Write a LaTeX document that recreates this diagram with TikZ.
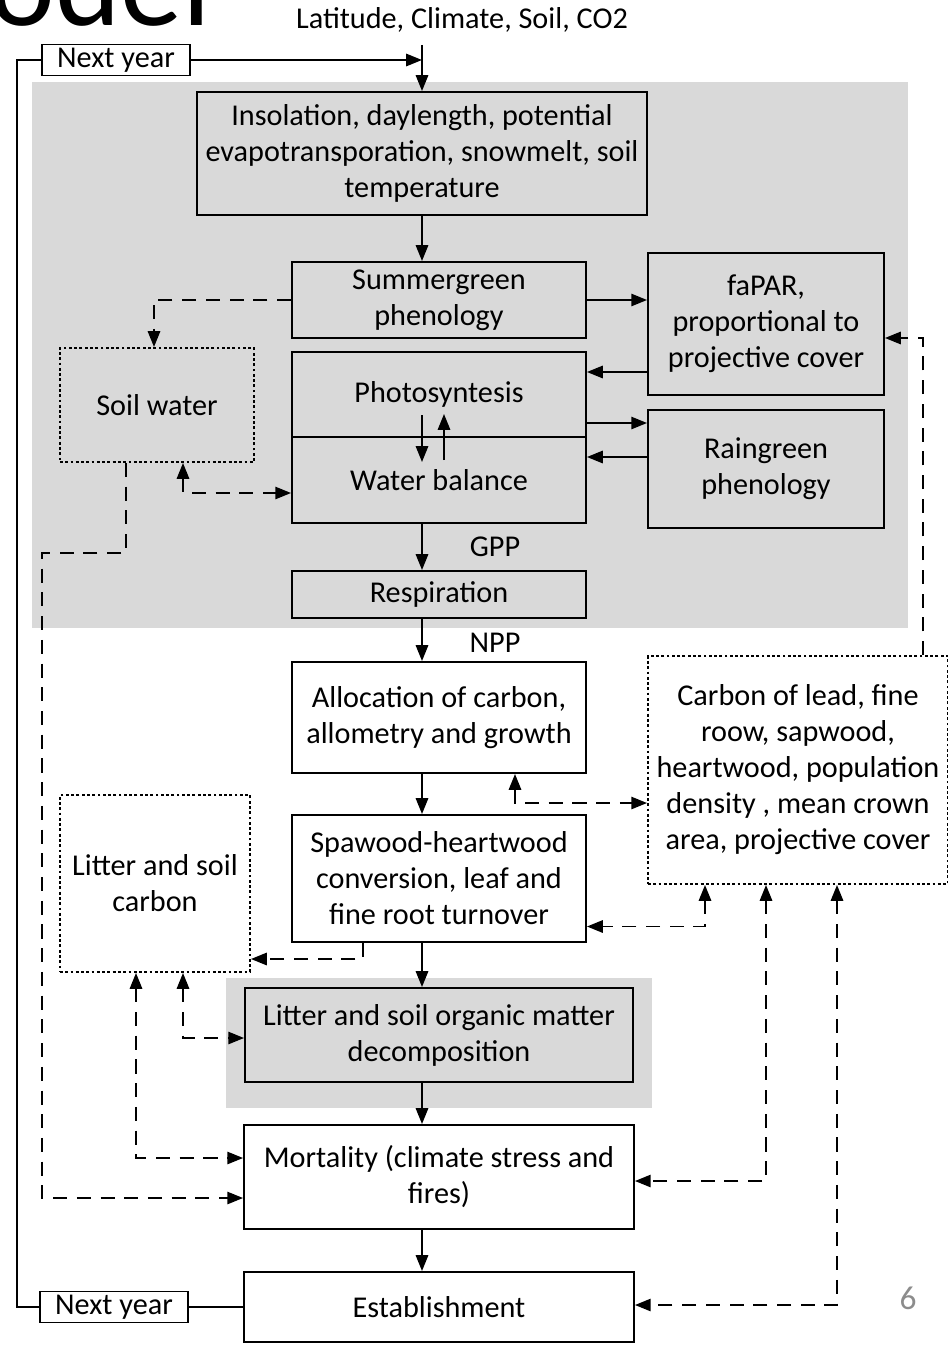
\documentclass[tikz,border=0pt]{standalone}
\usepackage{fontspec}
\setmainfont{Carlito}
\usepackage{tikz}
\usetikzlibrary{arrows.meta, positioning, calc}
\definecolor{panelgray}{RGB}{217,217,217}
\definecolor{pagegray}{RGB}{140,140,140}

\tikzset{
  txt/.style={font=\fontsize{17.2}{20.5}\selectfont},
  proc/.style={txt, draw, line width=1.1pt, fill=panelgray, align=center, inner sep=0pt},
  procw/.style={proc, fill=white},
  pool/.style={proc, dash pattern=on 1.6pt off 1.4pt},
  poolw/.style={pool, fill=white},
  flow/.style={line width=1.1pt, -{Triangle[length=9pt,width=7pt]}},
  link/.style={flow, dash pattern=on 8pt off 5.5pt},
  twoway/.style={link, {Triangle[length=9pt,width=7pt]}-{Triangle[length=9pt,width=7pt]}},
  lbl/.style={txt, inner sep=0pt},
}

\begin{document}
\begin{tikzpicture}[x=0.02cm, y=-0.02cm]
  \useasboundingbox (0,0) rectangle (947,1345);
  % shaded panels
  \fill[panelgray] (32,82) rectangle (908,628);
  \fill[panelgray] (226,978) rectangle (652,1108);
  \coordinate (spine) at (422,0);

  \node[lbl, anchor=base east, font=\fontsize{71}{71}\selectfont] (title) at (212,26) {odel};
  \node[lbl] (lat) at (462,20) {Latitude, Climate, Soil, CO2};
  \node[procw, minimum width=2.96cm, minimum height=0.62cm] (nyt) at (116,60) {Next year};
  \node[procw, minimum width=2.96cm, minimum height=0.62cm] (nyb) at (114,1307) {Next year};

  \node[proc, minimum width=9cm, minimum height=2.46cm] (ins) at (422,153.5)
    {Insolation, daylength, potential\\evapotransporation, snowmelt, soil\\temperature};
  \node[proc, minimum width=5.88cm, minimum height=1.52cm] (sum) at (439,300) {Summergreen\\phenology};
  \node[proc, minimum width=5.88cm, minimum height=1.7cm] (photo) at (439,394.5) {Photosyntesis};
  \node[proc, minimum width=5.88cm, minimum height=1.72cm] (wat) at (439,480) {Water balance};
  \node[proc, minimum width=4.72cm, minimum height=2.84cm] (fapar) at (766,324)
    {faPAR,\\proportional to\\projective cover};
  \node[proc, minimum width=4.72cm, minimum height=2.36cm] (rain) at (766,469) {Raingreen\\phenology};
  \node[pool, minimum width=3.88cm, minimum height=2.28cm] (soil) at (157,405) {Soil water};
  \node[proc, minimum width=5.88cm, minimum height=0.94cm] (resp) at (439,594.5) {Respiration};
  \node[procw, minimum width=5.88cm, minimum height=2.22cm] (alloc) at (439,717.5)
    {Allocation of carbon,\\allometry and growth};
  \node[poolw, minimum width=6cm, minimum height=4.56cm] (carbon) at (798,770)
    {Carbon of lead, fine\\roow, sapwood,\\heartwood, population\\density , mean crown\\area, projective cover};
  \node[procw, minimum width=5.88cm, minimum height=2.54cm] (spw) at (439,878.5)
    {Spawood-heartwood\\conversion, leaf and\\fine root turnover};
  \node[poolw, minimum width=3.8cm, minimum height=3.54cm] (litc) at (155,883.5) {Litter and soil\\carbon};
  \node[proc, minimum width=7.76cm, minimum height=1.88cm] (dec) at (439,1035)
    {Litter and soil organic matter\\decomposition};
  \node[procw, minimum width=7.8cm, minimum height=2.08cm] (mort) at (439,1177)
    {Mortality (climate stress and\\fires)};
  \node[procw, minimum width=7.8cm, minimum height=1.4cm] (est) at (439,1307) {Establishment};
  \node[lbl] (gpp) at (495,547) {GPP};
  \node[lbl] (npp) at (495,643) {NPP};
  \node[lbl, text=pagegray, font=\fontsize{19}{19}\selectfont] (page) at (908,1298) {6};

  % main chain
  \draw[flow] ($(lat.south -| spine)+(0,12)$) -- (ins.north -| spine);
  \draw[flow] (nyt.east) -- (nyt.east -| spine);
  \draw[flow] (ins.south -| spine) -- (sum.north -| spine);
  \draw[flow] (wat.south -| spine) -- (resp.north -| spine);
  \draw[flow] (resp.south -| spine) -- (alloc.north -| spine);
  \draw[flow] (alloc.south -| spine) -- (spw.north -| spine);
  \draw[flow] (spw.south -| spine) -- (dec.north -| spine);
  \draw[flow] (dec.south -| spine) -- (mort.north -| spine);
  \draw[flow] (mort.south -| spine) -- (est.north -| spine);
  \draw[line width=1.1pt] (est.west) -- (nyb.east);
  \draw[line width=1.1pt] (nyb.west) -- ++(-22,0) |- (nyt.west);

  % phenology and canopy exchange
  \coordinate (fa1) at ($(fapar.west)+(0,48)$);
  \coordinate (ph1) at ($(photo.east)+(0,28.5)$);
  \coordinate (ra1) at ($(rain.west)+(0,-12)$);
  \draw[flow] (sum.east) -- (sum.east -| fapar.west);
  \draw[flow] (fa1) -- (fa1 -| photo.east);
  \draw[flow] (ph1) -- (ph1 -| rain.west);
  \draw[flow] (ra1) -- (ra1 -| wat.east);
  \draw[flow] ($(photo.center -| spine)+(0,20.5)$) -- ($(wat.center -| spine)+(0,-18)$);
  \draw[flow] ($(wat.center -| spine)+(22,-20)$) -- ($(photo.center -| spine)+(22,19.5)$);

  % soil water
  \draw[link] (sum.west) -| ($(soil.north)+(-3,0)$);
  \draw[twoway] ($(soil.south)+(26,0)$) |- ($(wat.west)+(0,13)$);
  \draw[link] ($(soil.south)+(-31,0)$) -- ++(0,90) -- ++(-84,0) |- ($(mort.west)+(0,21)$);

  % carbon pools
  \draw[link] ($(carbon.north)+(125,0)$) |- ($(fapar.east)+(0,14)$);
  \draw[twoway] ($(alloc.south)+(76,0)$) |- ($(carbon.west)+(0,33)$);
  \draw[twoway] ($(carbon.south)+(-93,0)$) |- ($(spw.east)+(0,48)$);
  \draw[twoway] ($(carbon.south)+(-32,0)$) |- ($(mort.east)+(0,4)$);
  \draw[twoway] ($(carbon.south)+(39,0)$) |- ($(est.east)+(0,-2)$);

  % litter and soil carbon
  \draw[link] ($(spw.south)+(-76,0)$) |- ($(litc.east)+(0,75.5)$);
  \draw[twoway] ($(litc.south)+(28,0)$) |- ($(dec.west)+(0,3)$);
  \draw[twoway] ($(litc.south)+(-19,0)$) |- ($(mort.west)+(0,-19)$);
\end{tikzpicture}
\end{document}
